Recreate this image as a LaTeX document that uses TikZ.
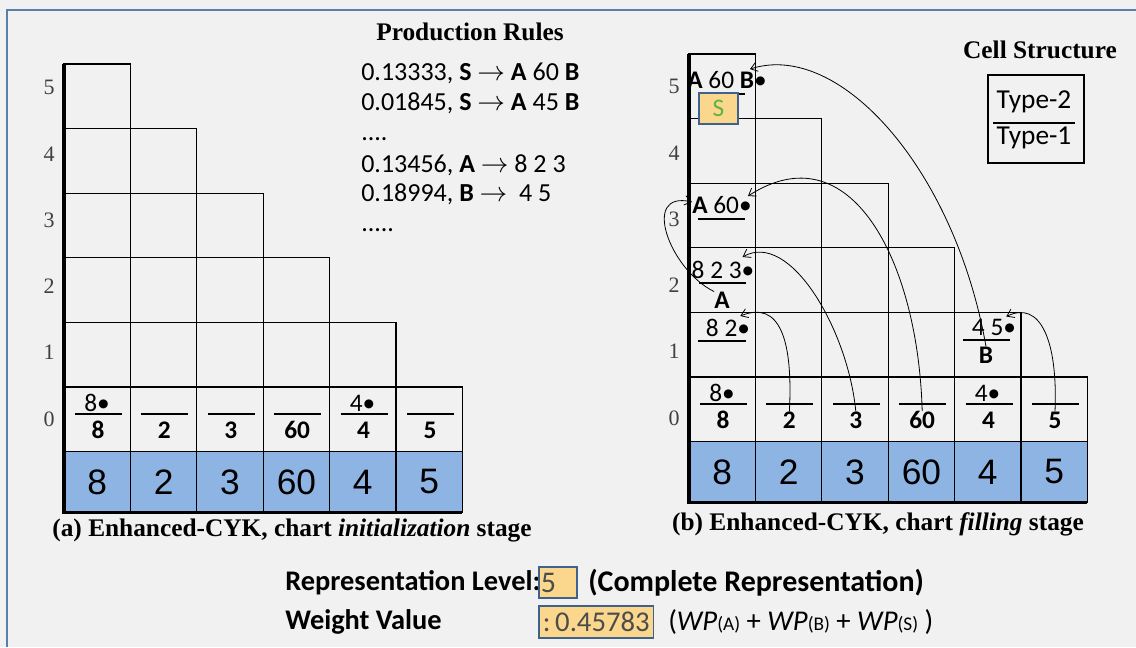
\documentclass[tikz,border=0pt]{standalone}
\usepackage{fontspec}
\setmainfont{Liberation Serif}
\setsansfont{Carlito}
\newfontfamily\arialfont{Liberation Sans}
\usetikzlibrary{arrows.meta}
\definecolor{cykPaper}{HTML}{F1F1F1}
\definecolor{cykFrame}{HTML}{5A7FA8}
\definecolor{cykBlue}{HTML}{8EB4E3}
\definecolor{cykGold}{HTML}{FAD78C}
\definecolor{cykEdge}{HTML}{3F628C}
\definecolor{cykGreen}{HTML}{5DB346}
\newcommand\cykdot{\textbullet}

\begin{document}
\begin{tikzpicture}[x=0.75pt,y=-0.75pt,
    grid/.style={line width=0.9pt},
    frac/.style={line width=1.3pt},
    spine/.style={line width=2.3pt},
    celltxt/.style={inner sep=0pt,font=\sffamily\fontsize{19}{22}\selectfont},
    typeone/.style={inner sep=0pt,font=\sffamily\bfseries\fontsize{19}{22}\selectfont},
    numtxt/.style={inner sep=0pt,font=\arialfont\fontsize{26.5}{30}\selectfont},
    rowlab/.style={inner sep=0pt,text=black!75,font=\rmfamily\fontsize{16.5}{18}\selectfont},
    headline/.style={inner sep=0pt,font=\rmfamily\bfseries\fontsize{19}{22}\selectfont},
    ruleline/.style={inner sep=0pt,anchor=base west,font=\sffamily\fontsize{19.5}{22}\selectfont},
    bottxt/.style={inner sep=0pt,anchor=west,font=\sffamily\bfseries\fontsize{21.3}{25}\selectfont},
    hilite/.style={draw=cykEdge,fill=cykGold,line width=1.3pt},
    link/.style={-{Straight Barb[length=5pt,width=7pt]},line width=0.6pt}]

  \fill[cykPaper] (0,0) rectangle (1136,647);
  \useasboundingbox (0,0) rectangle (1136,647);
  \draw[cykFrame,line width=1.6pt] (7,647) -- (7,10) -- (1136,10);

  % the two charts
  \foreach \s/\xo/\yo/\ly in {L/64/387/419,R/689/377/418}{
    \foreach \r in {0,...,5}{
      \pgfmathtruncatemacro\last{5-\r}
      \foreach \c in {0,...,\last}
        \draw[grid] (\xo+\c*66.4,\yo-\r*64.6) rectangle ++(66.4,64.6);
      \node[rowlab] (\s-l\r) at (\xo-15,\ly-\r*66.3) {\r};
    }
    \foreach \v [count=\c from 0] in {8,2,3,60,4,5}{
      \draw[grid,fill=cykBlue] (\xo+\c*66.4,\yo+64.6) rectangle ++(66.4,60.5);
      \node[numtxt] (\s-n\c) at (\xo+\c*66.4+33.2,\yo+95) {\v};
      \draw[frac] (\xo+\c*66.4+11,\yo+27) -- ++(47,0);
      \node[typeone] (\s-b\c) at (\xo+\c*66.4+34,\yo+43) {\v};
    }
    \node[celltxt] (\s-t0) at (\xo+33,\yo+16) {8\cykdot};
    \node[celltxt] (\s-t4) at (\xo+4*66.4+33,\yo+16) {4\cykdot};
    \draw[spine] (\xo,\yo-5*64.6) |- (\xo+6*66.4,\yo+125.1);
  }

  % filled cells of chart (b)
  \node[celltxt] (R-c10) at (728,328) {8 2\cykdot};
  \draw[frac] (698,341) -- (746,341);
  \node[celltxt] (R-c20) at (723,270) {8 2 3\cykdot};
  \draw[frac] (699,283) -- (746,283);
  \node[typeone] (R-A) at (722,300) {A};
  \node[celltxt] (R-c30) at (722,205) {\textbf{A} 60\cykdot};
  \draw[frac] (698,219) -- (745,219);
  \node[celltxt] (R-c50) at (727,80) {\textbf{A} 60 \textbf{B}\cykdot};
  \draw[frac] (698,94) -- (745,94);
  \node[hilite,minimum width=29pt,minimum height=23pt,inner sep=0pt,
        text=cykGreen,font=\sffamily\fontsize{19}{22}\selectfont] (R-S) at (718.5,108.5) {S};
  \node[celltxt] (R-c14) at (994,327) {4 5\cykdot};
  \draw[frac] (963,340) -- (1010,340);
  \node[typeone] (R-B) at (986,355) {B};

  % back pointers
  \draw[link] (R-b5.north) .. controls (1058,340) and (1040,300) .. ([shift={(-10,-2)}]R-c14.north east);
  \draw[link] (R-B.north) .. controls (955,170) and (840,40) .. ([shift={(-17,-2)}]R-c50.north east);
  \draw[link] (R-b3.north) .. controls (918,260) and (850,130) .. ([shift={(-4,0)}]R-c30.north east);
  \draw[link] (R-b2.north) .. controls (848,330) and (790,230) .. ([shift={(-12,-4)}]R-c20.north east);
  \draw[link] (R-b1.north) .. controls (793,340) and (780,300) .. ([shift={(-10,-3)}]R-c10.north east);
  \draw[link] (R-A.north west) .. controls (670,270) and (640,190) .. ([shift={(0,-3)}]R-c30.west);

  % production rules
  \node[headline] (pr) at (470,32) {Production Rules};
  \node[ruleline] (r1) at (361,80) {0.13333, \textbf{S} $\rightarrow$ \textbf{A} 60 \textbf{B}};
  \node[ruleline] (r2) at (361,110) {0.01845, \textbf{S} $\rightarrow$ \textbf{A} 45 \textbf{B}};
  \node[ruleline] (r3) at (361,140) {....};
  \node[ruleline] (r4) at (361,172) {0.13456, \textbf{A} $\rightarrow$ 8 2 3};
  \node[ruleline] (r5) at (361,201) {0.18994, \textbf{B} $\rightarrow$ ~4 5};
  \node[ruleline] (r6) at (361,231) {.....};

  % cell structure
  \node[headline] (cs) at (1040,50) {Cell Structure};
  \node[celltxt,font=\sffamily\fontsize{20.5}{24}\selectfont] (ty2) at (1034,102) {Type-2};
  \node[celltxt,font=\sffamily\fontsize{20.5}{24}\selectfont] (ty1) at (1034,138) {Type-1};
  \draw[frac] (993,123) -- (1075,123);
  \draw[line width=1.7pt] (988,75) rectangle (1084,163);

  % captions
  \node[headline] (capa) at (292,530) {(a) Enhanced-CYK, chart \textit{initialization} stage};
  \node[headline] (capb) at (878,524) {(b) Enhanced-CYK, chart \textit{filling} stage};

  % result
  \node[bottxt] (rl) at (285,583) {Representation Level:};
  \node[hilite,anchor=west,inner xsep=1.5pt,text width=25.5pt,minimum height=23pt,text=black!70,
        font=\sffamily\fontsize{22.5}{25}\selectfont] (lvl) at (538,582.5) {5};
  \node[bottxt,font=\sffamily\bfseries\fontsize{22.5}{25}\selectfont] (cr) at (588,583) {(Complete Representation)};
  \node[bottxt] (wv) at (285,622) {Weight Value};
  \node[hilite,anchor=west,inner xsep=1pt,minimum width=86pt,minimum height=24pt,text=black!70,
        font=\sffamily\fontsize{21.5}{25}\selectfont] (wval) at (538,622) {:\,0.45783};
  \node[bottxt,font=\sffamily\fontsize{21.5}{25}\selectfont] (wp) at (668,622)
    {(\textit{WP}{\fontsize{14.5}{16}\selectfont(A)} + \textit{WP}{\fontsize{14.5}{16}\selectfont(B)} + \textit{WP}{\fontsize{14.5}{16}\selectfont(S)}~)};
\end{tikzpicture}
\end{document}
